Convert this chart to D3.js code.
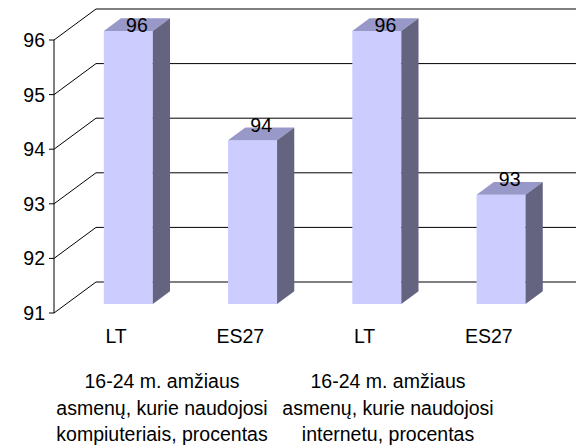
<!DOCTYPE html>
<html lang="lt">
<head>
<meta charset="UTF-8">
<title>Chart</title>
<script src="https://d3js.org/d3.v7.min.js"></script>
<style>
  body { margin: 0; background: #fff; }
  svg { display: block; font-family: "Liberation Sans", Arial, sans-serif; }
  text { fill: #000; font-size: 19.5px; }
</style>
</head>
<body>
<svg id="chart" width="576" height="447"></svg>
<script>
// data
var categories = ["LT", "ES27", "LT", "ES27"];
var values = [96, 94, 96, 93];
var groupLabels = [
  ["16-24 m. amžiaus", "asmenų, kurie naudojosi", "kompiuteriais, procentas"],
  ["16-24 m. amžiaus", "asmenų, kurie naudojosi", "internetu, procentas"]
];
var yTicks = [91, 92, 93, 94, 95, 96];

var svg = d3.select("#chart");

// front plane of the 3D box
var x = d3.scaleBand().domain(d3.range(categories.length)).range([54, 551]);
var y = d3.scaleLinear().domain([91, 96]).range([313, 40]);

// depth of the walls and of the columns
var wallDx = 42, wallDy = -31;
var barOff = 0.29, barDepth = 0.41, barW = 49;

// back wall gridlines
svg.append("g").selectAll("line").data(yTicks).enter().append("line")
  .attr("x1", 54 + wallDx).attr("x2", 551 + wallDx + 40)
  .attr("y1", d => y(d) + wallDy).attr("y2", d => y(d) + wallDy)
  .attr("stroke", "#000");

// side wall diagonals
svg.append("g").selectAll("line").data(yTicks).enter().append("line")
  .attr("x1", 54).attr("y1", d => y(d))
  .attr("x2", 54 + wallDx).attr("y2", d => y(d) + wallDy)
  .attr("stroke", "#000");

// value axis
svg.append("line").attr("x1", 54).attr("x2", 54)
  .attr("y1", y(96)).attr("y2", y(91)).attr("stroke", "#000");
svg.append("g").selectAll("line").data(yTicks).enter().append("line")
  .attr("x1", 49).attr("x2", 54)
  .attr("y1", d => y(d)).attr("y2", d => y(d)).attr("stroke", "#000");
svg.append("g").selectAll("text").data(yTicks).enter().append("text")
  .attr("x", 45).attr("y", d => y(d)).attr("dy", "0.36em")
  .attr("text-anchor", "end").text(d => d);

// columns
var bx = wallDx * barOff, by = wallDy * barOff;
var ddx = wallDx * barDepth, ddy = wallDy * barDepth;
var bars = svg.append("g").selectAll("g").data(values).enter().append("g");
function left(i) { return x(i) + x.bandwidth() / 2 - barW / 2 + bx; }
bars.append("rect")
  .attr("x", (d, i) => left(i))
  .attr("y", d => y(d) + by)
  .attr("width", barW)
  .attr("height", d => y(91) - y(d))
  .attr("fill", "#ccccff");
bars.append("path")
  .attr("fill", "#9999c9")
  .attr("d", (d, i) => {
    var l = left(i), t = y(d) + by;
    return "M" + l + "," + t + "L" + (l + ddx) + "," + (t + ddy) +
      "L" + (l + barW + ddx) + "," + (t + ddy) + "L" + (l + barW) + "," + t + "Z";
  });
bars.append("path")
  .attr("fill", "#646480")
  .attr("d", (d, i) => {
    var r = left(i) + barW, t = y(d) + by, b = y(91) + by;
    return "M" + r + "," + t + "L" + (r + ddx) + "," + (t + ddy) +
      "L" + (r + ddx) + "," + (b + ddy) + "L" + r + "," + b + "Z";
  });
bars.append("text")
  .attr("x", (d, i) => left(i) + (barW + ddx) / 2)
  .attr("y", d => Math.max(y(d) + by - 8.5, 32))
  .attr("text-anchor", "middle")
  .text(d => d);

// category labels
svg.append("g").selectAll("text").data(categories).enter().append("text")
  .attr("x", (d, i) => x(i) + x.bandwidth() / 2)
  .attr("y", 343)
  .attr("text-anchor", "middle")
  .text(d => d);

// group labels
var groupX = [162, 388];
groupLabels.forEach((lines, g) => {
  var t = svg.append("text").attr("text-anchor", "middle");
  lines.forEach((s, k) => {
    t.append("tspan").attr("x", groupX[g]).attr("y", 388 + k * 26.6).text(s);
  });
});
</script>
</body>
</html>
